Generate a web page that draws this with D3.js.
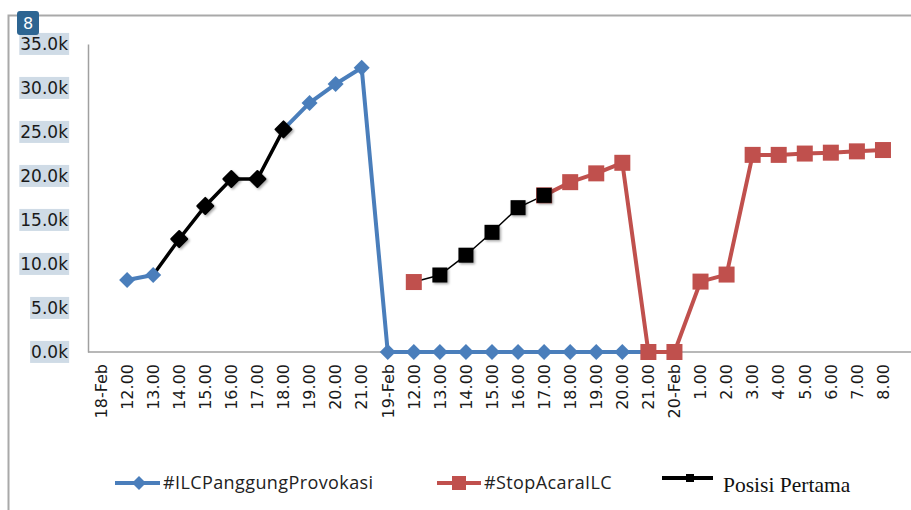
<!DOCTYPE html>
<html>
<head>
<meta charset="utf-8">
<script src="https://cdn.jsdelivr.net/npm/d3@7"></script>
<style>
  body { margin: 0; background: #fff; }
</style>
</head>
<body>
<div id="container"></div>
<script>
// categories along the x axis (day marker then hours)
let categories = ["18-Feb", "12.00", "13.00", "14.00", "15.00", "16.00", "17.00", "18.00", "19.00", "20.00", "21.00",
  "19-Feb", "12.00", "13.00", "14.00", "15.00", "16.00", "17.00", "18.00", "19.00", "20.00", "21.00",
  "20-Feb", "1.00", "2.00", "3.00", "4.00", "5.00", "6.00", "7.00", "8.00"];

// #ILCPanggungProvokasi (null where the black line takes over)
let ilcValues = [null, 8180, 8750, null, null, null, null, 25300, 28300, 30450, 32300,
  0, 0, 0, 0, 0, 0, 0, 0, 0, 0,
  0, null, null, null, null, null, null, null, null];

// #StopAcaraILC
let stopValues = [null, null, null, null, null, null, null, null, null, null, null,
  null, 7950, null, null, null, null, 17800, 19300, 20300, 21500,
  0, 0, 8000, 8800, 22400, 22400, 22550, 22650, 22800, 22950];

// Posisi Pertama
let posisiValues = [null, null, 8750, 12840, 16600, 19660, 19660, 25300, null, null, null,
  null, 7950, 8750, 11000, 13600, 16400, 17800, null, null, null,
  null, null, null, null, null, null, null, null, null, null];

let yTicks = [0, 5000, 10000, 15000, 20000, 25000, 30000, 35000];
let legendLabels = ["#ILCPanggungProvokasi", "#StopAcaraILC", "Posisi Pertama"];

let w = 911;
let h = 510;
let blue = "#4a7ebb";
let red = "#c0504d";

let svg = d3.select("#container")
  .append("svg")
  .attr("width", w)
  .attr("height", h)
  .style("display", "block")
  .style("background-color", "#fff");

let defs = svg.append("defs");
let shadow = defs.append("filter").attr("id", "shadow")
  .attr("x", "-50%").attr("y", "-50%").attr("width", "200%").attr("height", "200%");
shadow.append("feDropShadow")
  .attr("dx", 1.5).attr("dy", 1.5).attr("stdDeviation", 1.2)
  .attr("flood-color", "#000").attr("flood-opacity", 0.35);

// outer frame (left + top only)
svg.append("path")
  .attr("d", "M8.5,510 V15.5 H911")
  .attr("fill", "none")
  .attr("stroke", "#a9a9a9")
  .attr("stroke-width", 2);

// scales
let xScale = d3.scaleBand().domain(d3.range(categories.length)).range([88, 896]).padding(0);
let yScale = d3.scaleLinear().domain([0, 35000]).range([352, 44]);
let cx = i => xScale(i) + xScale.bandwidth() / 2;

// y axis
let yAxis = d3.axisLeft(yScale)
  .tickValues(yTicks)
  .tickSize(0)
  .tickPadding(20)
  .tickFormat(d => (d / 1000).toFixed(1) + "k");

let yAxisGroup = svg.append("g").attr("class", "yAxisGroup")
  .attr("transform", "translate(88,0)")
  .call(yAxis);
yAxisGroup.select(".domain").attr("stroke", "#a0a0a0").attr("stroke-width", 1.5);
yAxisGroup.selectAll("text")
  .attr("font-family", "DejaVu Sans")
  .attr("font-size", "17px")
  .attr("fill", "#1a1a1a");
// highlight behind tick labels
yAxisGroup.selectAll(".tick").each(function () {
  let t = d3.select(this).select("text");
  let b = t.node().getBBox();
  d3.select(this).insert("rect", "text")
    .attr("x", b.x - 1)
    .attr("y", b.y - 1)
    .attr("width", b.width + 2)
    .attr("height", b.height + 2)
    .attr("fill", "#cfdbe6");
});

// x axis
let xAxis = d3.axisBottom(xScale)
  .tickSize(0)
  .tickFormat(i => categories[i]);

let xAxisGroup = svg.append("g").attr("class", "xAxisGroup")
  .attr("transform", "translate(0,352)")
  .call(xAxis);
xAxisGroup.select(".domain").remove();
xAxisGroup.selectAll("text")
  .attr("font-family", "DejaVu Sans")
  .attr("font-size", "16px")
  .attr("fill", "#1a1a1a")
  .attr("text-anchor", "end")
  .attr("transform", "rotate(-90)")
  .attr("x", -12)
  .attr("y", 0)
  .attr("dy", "0.36em");

svg.append("line")
  .attr("x1", 88).attr("x2", w)
  .attr("y1", 352).attr("y2", 352)
  .attr("stroke", "#a0a0a0")
  .attr("stroke-width", 1.5);

// line generators
function makeLine(values) {
  return d3.line()
    .defined(i => values[i] != null)
    .x(i => cx(i))
    .y(i => yScale(values[i]));
}

let idx = d3.range(categories.length);

svg.append("path")
  .attr("fill", "none").attr("stroke", blue).attr("stroke-width", 4)
  .attr("stroke-linejoin", "round")
  .attr("d", makeLine(ilcValues)(idx));

svg.append("path")
  .attr("fill", "none").attr("stroke", red).attr("stroke-width", 4)
  .attr("stroke-linejoin", "round")
  .attr("d", makeLine(stopValues)(idx));

// Posisi Pertama: split into runs, first run thick with diamonds, second thin with squares
let runs = [];
let cur = [];
idx.forEach(i => {
  if (posisiValues[i] != null) cur.push(i);
  else if (cur.length) { runs.push(cur); cur = []; }
});
if (cur.length) runs.push(cur);

let runStyles = [
  { width: 3.5, shape: "diamond" },
  { width: 1.5, shape: "square" }
];

runs.forEach((run, r) => {
  svg.append("path")
    .attr("fill", "none").attr("stroke", "#000")
    .attr("stroke-width", runStyles[r].width)
    .attr("d", makeLine(posisiValues)(run));
});

// markers
function diamondPath(s) {
  return "M0," + (-s) + "L" + s + ",0L0," + s + "L" + (-s) + ",0Z";
}

svg.append("g").selectAll("path")
  .data(idx.filter(i => ilcValues[i] != null))
  .enter()
  .append("path")
  .attr("d", diamondPath(8))
  .attr("fill", blue)
  .attr("transform", i => "translate(" + cx(i) + "," + yScale(ilcValues[i]) + ")");

svg.append("g").selectAll("rect")
  .data(idx.filter(i => stopValues[i] != null))
  .enter()
  .append("rect")
  .attr("x", i => cx(i) - 8)
  .attr("y", i => yScale(stopValues[i]) - 8)
  .attr("width", 16)
  .attr("height", 16)
  .attr("fill", red);

runs.forEach((run, r) => {
  let pts = run.slice(1); // first point keeps the hashtag marker
  let g = svg.append("g").attr("filter", "url(#shadow)");
  if (runStyles[r].shape == "diamond") {
    g.selectAll("path")
      .data(pts)
      .enter()
      .append("path")
      .attr("d", diamondPath(8))
      .attr("fill", "#000")
      .attr("stroke", "#000")
      .attr("stroke-width", 2)
      .attr("stroke-linejoin", "round")
      .attr("transform", i => "translate(" + cx(i) + "," + yScale(posisiValues[i]) + ")");
  } else {
    g.selectAll("rect")
      .data(pts)
      .enter()
      .append("rect")
      .attr("x", i => cx(i) - 7.5)
      .attr("y", i => yScale(posisiValues[i]) - 7.5)
      .attr("width", 15)
      .attr("height", 15)
      .attr("fill", "#000");
  }
});

// badge
svg.append("rect")
  .attr("x", 17).attr("y", 11)
  .attr("width", 22).attr("height", 24)
  .attr("rx", 3)
  .attr("fill", "#2d6592");
svg.append("text")
  .attr("x", 28).attr("y", 23)
  .attr("text-anchor", "middle")
  .attr("dy", "0.36em")
  .attr("font-family", "DejaVu Sans")
  .attr("font-size", "16px")
  .attr("fill", "#fff")
  .text("8");

// legend
let legend = svg.append("g").attr("class", "legend");

legend.append("line")
  .attr("x1", 115).attr("x2", 160).attr("y1", 483).attr("y2", 483)
  .attr("stroke", blue).attr("stroke-width", 4);
legend.append("path")
  .attr("d", diamondPath(7))
  .attr("fill", blue)
  .attr("transform", "translate(139,483)");
legend.append("text")
  .attr("x", 163).attr("y", 483).attr("dy", "0.36em")
  .attr("font-family", "Open Sans")
  .attr("font-size", "18px")
  .attr("letter-spacing", "0.4px")
  .attr("fill", "#222")
  .text(legendLabels[0]);

legend.append("line")
  .attr("x1", 437).attr("x2", 481).attr("y1", 483).attr("y2", 483)
  .attr("stroke", red).attr("stroke-width", 4);
legend.append("rect")
  .attr("x", 452).attr("y", 476).attr("width", 14).attr("height", 14)
  .attr("fill", red);
legend.append("text")
  .attr("x", 484).attr("y", 483).attr("dy", "0.36em")
  .attr("font-family", "Open Sans")
  .attr("font-size", "18px")
  .attr("letter-spacing", "0.4px")
  .attr("fill", "#222")
  .text(legendLabels[1]);

legend.append("line")
  .attr("x1", 662).attr("x2", 713).attr("y1", 478).attr("y2", 478)
  .attr("stroke", "#000").attr("stroke-width", 4);
legend.append("rect")
  .attr("x", 686).attr("y", 474).attr("width", 8).attr("height", 8)
  .attr("fill", "#000");
legend.append("text")
  .attr("x", 723).attr("y", 492)
  .attr("font-family", "Liberation Serif")
  .attr("font-size", "21.5px")
  .attr("fill", "#111")
  .text(legendLabels[2]);
</script>
</body>
</html>
